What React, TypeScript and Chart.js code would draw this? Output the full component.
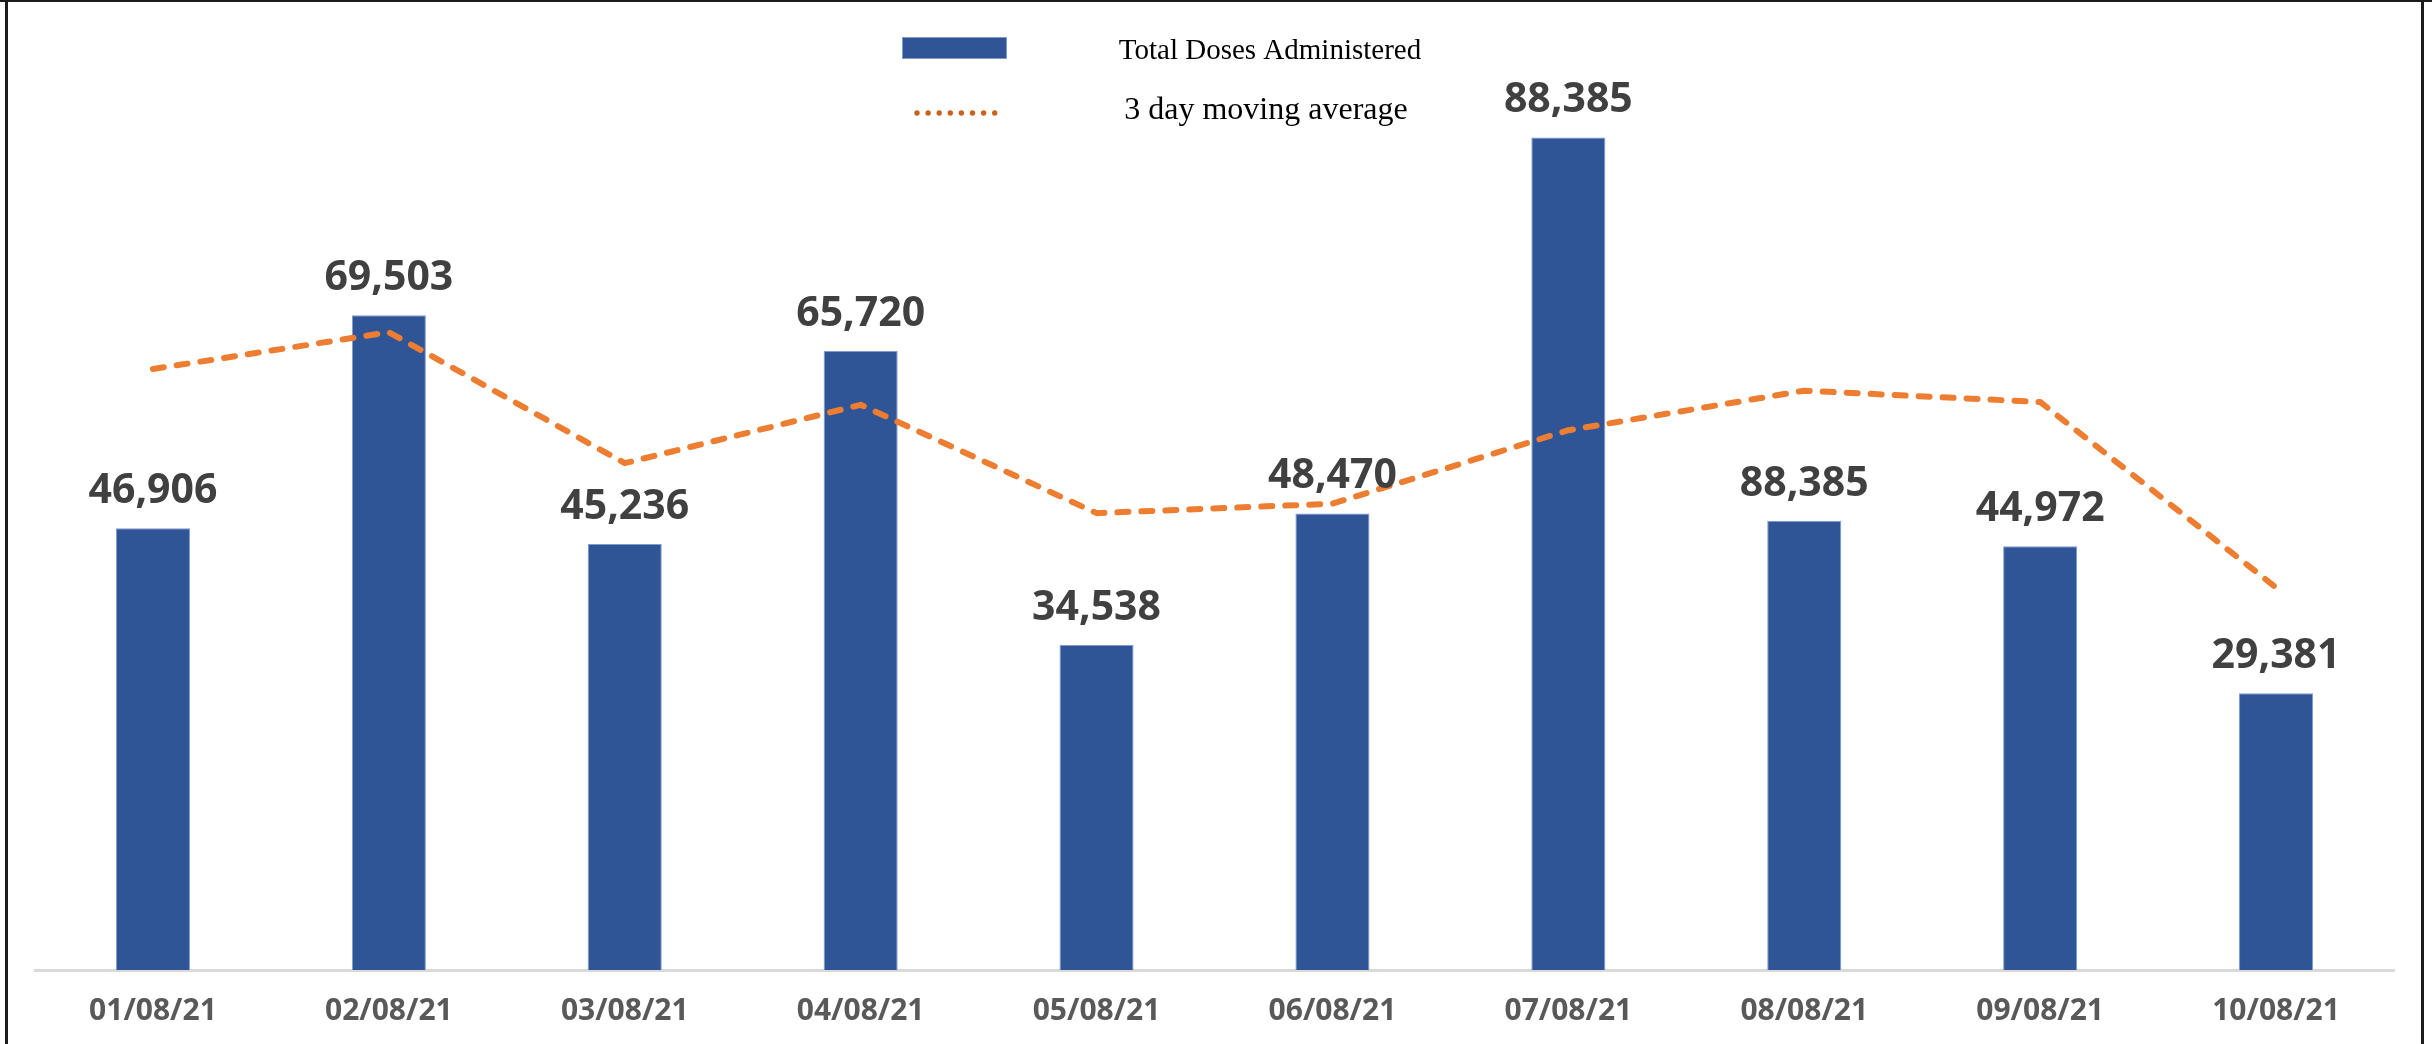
import React, { useEffect, useRef } from 'react';
import { Chart, registerables } from 'chart.js';

Chart.register(...registerables);

// ---- Data ----
const categories = [
  '01/08/21', '02/08/21', '03/08/21', '04/08/21', '05/08/21',
  '06/08/21', '07/08/21', '08/08/21', '09/08/21', '10/08/21',
];
const totalDoses = [46906, 69503, 45236, 65720, 34538, 48470, 88385, 47700, 44972, 29381];
const doseLabels = [
  '46,906', '69,503', '45,236', '65,720', '34,538',
  '48,470', '88,385', '88,385', '44,972', '29,381',
];
const movingAverage = [63800, 67700, 53800, 60000, 48500, 49500, 57300, 61500, 60300, 40600];
const seriesNames = ['Total Doses Administered', '3 day moving average'];
const yMin = 0;
const yMax = 100000;

// ---- Styles ----
const BAR_COLOR = '#2F5597';
const LINE_COLOR = '#ED7D31';
const LEGEND_DOT_COLOR = '#C9621C';
const LABEL_FONT = '"Open Sans", "Noto Sans", sans-serif';
const LEGEND_FONT = '"Liberation Serif", "Times New Roman", serif';

const framePlugin = {
  id: 'frame',
  afterDraw(chart: any) {
    const ctx = chart.ctx;
    const w = chart.width;
    const h = chart.height;
    ctx.save();
    ctx.fillStyle = '#1c1c1c';
    ctx.fillRect(0, 0, w, 2);
    ctx.fillRect(5, 0, 3, h);
    ctx.fillRect(2421, 0, 3, h);
    ctx.restore();
  },
};

const legendPlugin = {
  id: 'customLegend',
  afterDraw(chart: any) {
    const ctx = chart.ctx;
    const ds = chart.data.datasets;
    ctx.save();
    // bar swatch
    ctx.fillStyle = ds[0].backgroundColor;
    ctx.fillRect(902, 37, 105, 22);
    ctx.strokeStyle = '#7F9BD0';
    ctx.lineWidth = 1;
    ctx.strokeRect(902.5, 37.5, 104, 21);
    // dotted line swatch
    ctx.fillStyle = LEGEND_DOT_COLOR;
    for (let i = 0; i < 8; i++) {
      ctx.beginPath();
      ctx.arc(917 + i * 11.1, 113, 2.7, 0, Math.PI * 2);
      ctx.fill();
    }
    // texts
    ctx.fillStyle = '#000000';
    ctx.textAlign = 'center';
    ctx.textBaseline = 'middle';
    ctx.font = `29px ${LEGEND_FONT}`;
    ctx.fillText(ds[0].label, 1270, 51);
    ctx.font = `32px ${LEGEND_FONT}`;
    ctx.fillText(ds[1].label, 1266, 111);
    ctx.restore();
  },
};

const dataLabelPlugin = {
  id: 'barValueLabels',
  afterDatasetsDraw(chart: any) {
    const ctx = chart.ctx;
    const meta = chart.getDatasetMeta(0);
    ctx.save();
    ctx.fillStyle = '#404040';
    ctx.font = `bold 41px ${LABEL_FONT}`;
    ctx.textAlign = 'center';
    ctx.textBaseline = 'alphabetic';
    meta.data.forEach((el: any, i: number) => {
      const { x, y } = el.getProps(['x', 'y'], true);
      ctx.fillText(doseLabels[i], x, y - 25);
    });
    ctx.restore();
  },
};

export default function App() {
  const ref = useRef<HTMLCanvasElement | null>(null);

  useEffect(() => {
    let chart: Chart | null = null;
    let cancelled = false;

    const build = () => {
      if (cancelled || !ref.current) return;
      chart = new Chart(ref.current, {
        type: 'bar',
        data: {
          labels: categories,
          datasets: [
            {
              type: 'bar',
              label: seriesNames[0],
              data: totalDoses,
              backgroundColor: BAR_COLOR,
              borderColor: '#7F9BD0',
              borderWidth: 1,
              categoryPercentage: 1,
              barPercentage: 0.314,
              order: 2,
            } as any,
            {
              type: 'line',
              label: seriesNames[1],
              data: movingAverage,
              borderColor: LINE_COLOR,
              backgroundColor: LINE_COLOR,
              borderWidth: 6,
              borderDash: [11, 13],
              borderCapStyle: 'round',
              borderJoinStyle: 'round',
              pointRadius: 0,
              pointHoverRadius: 0,
              tension: 0,
              fill: false,
              order: 1,
            } as any,
          ],
        },
        options: {
          responsive: false,
          maintainAspectRatio: false,
          animation: false,
          devicePixelRatio: 1,
          layout: { padding: { top: 28, left: 35, right: 38, bottom: 14 } },
          plugins: {
            legend: { display: false },
            tooltip: { enabled: false },
            title: { display: false },
          },
          scales: {
            x: {
              grid: { display: false, drawTicks: false, tickLength: 0 },
              border: { display: true, color: '#D9D9D9', width: 3 },
              ticks: {
                color: '#595959',
                font: { family: LABEL_FONT, size: 30, weight: 'bold' },
                padding: 23,
                maxRotation: 0,
                autoSkip: false,
              },
              afterFit: (scale: any) => {
                scale.height = 60;
              },
            } as any,
            y: {
              display: false,
              min: yMin,
              max: yMax,
            },
          },
        },
        plugins: [dataLabelPlugin, legendPlugin, framePlugin],
      } as any);
    };

    const fontsReady = (document as any).fonts
      ? Promise.all([
          (document as any).fonts.load(`bold 41px ${LABEL_FONT}`),
          (document as any).fonts.load(`29px ${LEGEND_FONT}`),
        ]).catch(() => undefined)
      : Promise.resolve();
    fontsReady.then(build);

    return () => {
      cancelled = true;
      if (chart) chart.destroy();
    };
  }, []);

  return (
    <div
      style={{
        position: 'fixed',
        left: 0,
        top: 0,
        width: 2432,
        height: 1044,
        background: '#ffffff',
        overflow: 'hidden',
      }}
    >
      <canvas
        ref={ref}
        width={2432}
        height={1044}
        style={{ display: 'block', width: 2432, height: 1044 }}
      />
    </div>
  );
}
